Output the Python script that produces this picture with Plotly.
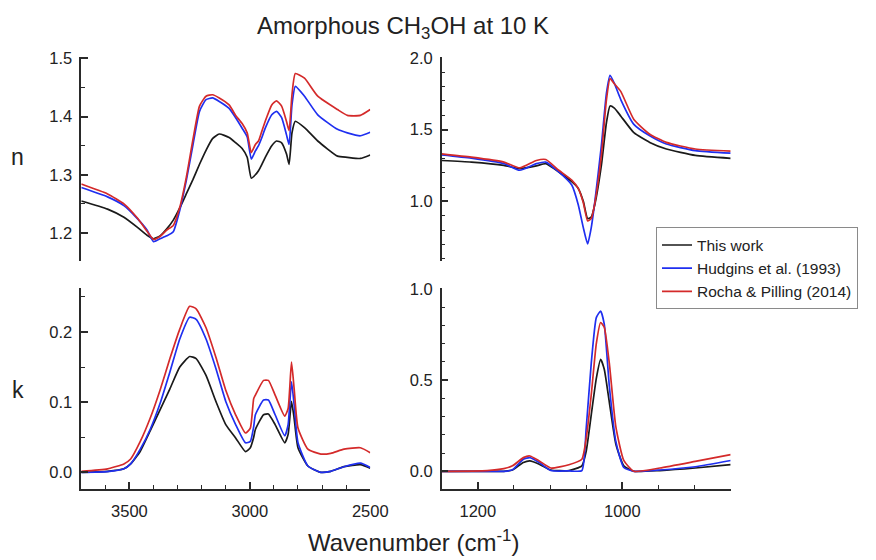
import plotly.graph_objects as go

# ---------------- data ----------------
series_names = ["This work", "Hudgins et al. (1993)", "Rocha & Pilling (2014)"]
series_colors = ["#1a1a1a", "#1f2ff0", "#d42a2a"]

# n, 3700-2500 cm-1
wn_n_hi = [3700, 3591, 3523, 3468, 3427, 3400, 3373, 3345, 3318, 3291, 3264, 3236, 3209, 3182,
           3155, 3127, 3086, 3059, 3032, 3011, 2994, 2977, 2964, 2950, 2936, 2909, 2889, 2868,
           2848, 2837, 2825, 2811, 2773, 2718, 2636, 2595, 2541, 2500]
n_hi_this = [1.255, 1.241, 1.227, 1.210, 1.196, 1.190, 1.195, 1.207, 1.222, 1.243, 1.267, 1.292,
             1.318, 1.342, 1.362, 1.370, 1.364, 1.355, 1.345, 1.330, 1.294, 1.300, 1.307, 1.318,
             1.330, 1.350, 1.358, 1.355, 1.336, 1.318, 1.372, 1.392, 1.381, 1.358, 1.332, 1.330,
             1.328, 1.334]
n_hi_hudgins = [1.278, 1.262, 1.247, 1.225, 1.205, 1.185, 1.190, 1.195, 1.202, 1.239, 1.290, 1.352,
                1.409, 1.429, 1.432, 1.426, 1.414, 1.398, 1.380, 1.365, 1.327, 1.341, 1.350, 1.364,
                1.380, 1.403, 1.409, 1.398, 1.369, 1.352, 1.420, 1.452, 1.435, 1.403, 1.378, 1.372,
                1.367, 1.373]
n_hi_rocha = [1.284, 1.267, 1.250, 1.226, 1.203, 1.189, 1.194, 1.205, 1.213, 1.244, 1.295, 1.361,
              1.418, 1.435, 1.4375, 1.432, 1.420, 1.402, 1.388, 1.372, 1.338, 1.352, 1.358, 1.375,
              1.392, 1.420, 1.427, 1.418, 1.392, 1.376, 1.4375, 1.474, 1.466, 1.435, 1.412, 1.402,
              1.402, 1.412]

# n, 1250-850 cm-1
wn_n_lo = [1250, 1209, 1164, 1142, 1119, 1106, 1088, 1070, 1061, 1054, 1048, 1043, 1038, 1029,
           1022, 1017, 1011, 1002, 984, 962, 939, 899, 850]
n_lo_this = [1.285, 1.274, 1.251, 1.228, 1.247, 1.263, 1.205, 1.137, 1.090, 1.000, 0.880, 0.890,
             0.980, 1.251, 1.548, 1.665, 1.650, 1.594, 1.479, 1.411, 1.365, 1.320, 1.300]
n_lo_hudgins = [1.324, 1.301, 1.263, 1.217, 1.263, 1.274, 1.205, 1.114, 0.977, 0.817, 0.703, 0.817,
                1.000, 1.388, 1.753, 1.879, 1.822, 1.708, 1.537, 1.457, 1.400, 1.354, 1.336]
n_lo_rocha = [1.331, 1.308, 1.274, 1.233, 1.285, 1.292, 1.217, 1.148, 1.090, 0.990, 0.863, 0.880,
              0.990, 1.320, 1.708, 1.856, 1.820, 1.765, 1.571, 1.468, 1.411, 1.365, 1.350]

# k, 3700-2500 cm-1
wn_k_hi = [3700, 3591, 3523, 3495, 3455, 3414, 3373, 3332, 3291, 3250, 3223, 3182, 3141, 3100,
           3059, 3018, 2998, 2984, 2977, 2943, 2923, 2895, 2855, 2841, 2827, 2816, 2800, 2759,
           2705, 2664, 2609, 2541, 2500]
k_hi_this = [0.000, 0.0014, 0.005, 0.012, 0.030, 0.059, 0.089, 0.119, 0.150, 0.165, 0.162, 0.138,
             0.101, 0.068, 0.049, 0.0295, 0.035, 0.050, 0.061, 0.082, 0.083, 0.068, 0.042, 0.054,
             0.101, 0.077, 0.035, 0.009, 0.000, 0.0014, 0.008, 0.011, 0.006]
k_hi_hudgins = [0.000, 0.001, 0.005, 0.012, 0.033, 0.061, 0.098, 0.143, 0.190, 0.221, 0.218, 0.190,
                0.148, 0.101, 0.068, 0.042, 0.044, 0.065, 0.082, 0.103, 0.103, 0.082, 0.052, 0.068,
                0.129, 0.096, 0.042, 0.009, 0.000, 0.0014, 0.008, 0.013, 0.007]
k_hi_rocha = [0.0014, 0.005, 0.012, 0.019, 0.044, 0.077, 0.117, 0.162, 0.204, 0.2365, 0.233, 0.206,
              0.164, 0.117, 0.082, 0.056, 0.063, 0.105, 0.110, 0.131, 0.131, 0.110, 0.080, 0.091,
              0.157, 0.119, 0.063, 0.033, 0.026, 0.027, 0.033, 0.035, 0.028]

# k, 1250-850 cm-1
wn_k_lo = [1250, 1187, 1164, 1152, 1137, 1128, 1115, 1099, 1074, 1056, 1050, 1043, 1036, 1030,
           1025, 1018, 1009, 998, 984, 948, 899, 850]
k_lo_this = [0.000, 0.000, 0.000, 0.007, 0.048, 0.057, 0.039, 0.007, 0.004, 0.030, 0.110, 0.310,
             0.510, 0.614, 0.560, 0.380, 0.150, 0.030, 0.000, 0.004, 0.018, 0.037]
k_lo_hudgins = [0.000, 0.000, 0.000, 0.008, 0.066, 0.075, 0.048, 0.004, 0.002, 0.004, 0.236, 0.593,
                0.843, 0.879, 0.807, 0.468, 0.164, 0.021, 0.000, 0.007, 0.025, 0.059]
k_lo_rocha = [0.000, 0.004, 0.015, 0.030, 0.075, 0.084, 0.057, 0.018, 0.036, 0.066, 0.180, 0.420,
              0.700, 0.816, 0.790, 0.593, 0.245, 0.060, 0.000, 0.018, 0.054, 0.091]

x_ticks_hi = [3500, 3000, 2500]
x_ticks_lo = [1200, 1000]

# ---------------- figure ----------------
W, H = 876, 560
FONT = "Liberation Sans, Arial, sans-serif"
AX = "#2a2a2a"
TXT = "#222222"

fig = go.Figure()

panels = [
    ("x", "y", wn_n_hi, [n_hi_this, n_hi_hudgins, n_hi_rocha], False),
    ("x2", "y2", wn_n_lo, [n_lo_this, n_lo_hudgins, n_lo_rocha], True),
    ("x3", "y3", wn_k_hi, [k_hi_this, k_hi_hudgins, k_hi_rocha], False),
    ("x4", "y4", wn_k_lo, [k_lo_this, k_lo_hudgins, k_lo_rocha], False),
]
for xa, ya, xs, ys_list, show in panels:
    for name, color, ys in zip(series_names, series_colors, ys_list):
        fig.add_trace(go.Scatter(
            x=xs, y=ys, xaxis=xa, yaxis=ya, mode="lines", name=name,
            line=dict(color=color, width=1.7, shape="spline", smoothing=0.5),
            showlegend=show,
        ))

def px_x(p):
    return p / W

def px_y(p):
    return 1 - p / H

dom_x_left = [px_x(83), px_x(378)]
dom_x_right = [px_x(451), px_x(746)]
dom_y_top = [px_y(256), px_y(49)]
dom_y_bot = [px_y(488), px_y(284)]

tickfont = dict(family=FONT, size=16.5, color=TXT)

def yax(domain, anchor, rng, dtick, mdtick):
    return dict(domain=domain, anchor=anchor, range=rng, dtick=dtick, tickformat=".1f",
                showline=True, linecolor=AX, linewidth=1.5, ticks="inside", ticklen=7,
                tickwidth=1.5, tickcolor=AX, showgrid=False, zeroline=False,
                tickfont=tickfont, ticklabelstandoff=4,
                minor=dict(ticks="inside", dtick=mdtick, ticklen=4, tickwidth=1.2,
                           tickcolor=AX, showgrid=False))

def xax_bottom(domain, anchor, rng, tickvals, mdtick):
    return dict(domain=domain, anchor=anchor, range=rng, tickvals=tickvals,
                showline=True, linecolor=AX, linewidth=1.5, ticks="inside", ticklen=7,
                tickwidth=1.5, tickcolor=AX, showgrid=False, zeroline=False,
                tickfont=tickfont, ticklabelstandoff=6,
                minor=dict(ticks="inside", dtick=mdtick, ticklen=4, tickwidth=1.2,
                           tickcolor=AX, showgrid=False))

def xax_hidden(domain, anchor, rng):
    return dict(domain=domain, anchor=anchor, range=rng, visible=False, showgrid=False,
                zeroline=False)

fig.update_layout(
    width=W, height=H,
    margin=dict(l=0, r=0, t=0, b=0),
    paper_bgcolor="white", plot_bgcolor="white",
    font=dict(family=FONT, color=TXT),
    xaxis=xax_hidden(dom_x_left, "y", [3700, 2500]),
    xaxis2=xax_hidden(dom_x_right, "y2", [1250, 850]),
    xaxis3=xax_bottom(dom_x_left, "y3", [3700, 2500], x_ticks_hi, 100),
    xaxis4=xax_bottom(dom_x_right, "y4", [1250, 850], x_ticks_lo, 50),
    yaxis=yax(dom_y_top, "x", [1.152, 1.502], 0.1, 0.05),
    yaxis2=yax(dom_y_top, "x2", [0.585, 2.005], 0.5, 0.1),
    yaxis3=yax(dom_y_bot, "x3", [-0.024, 0.262], 0.1, 0.05),
    yaxis4=yax(dom_y_bot, "x4", [-0.098, 1.003], 0.5, 0.1),
    legend=dict(x=1.0, y=px_y(222), xanchor="right", yanchor="top",
                bgcolor="white", bordercolor="#8a8a8a", borderwidth=1,
                font=dict(family=FONT, size=15.5, color=TXT),
                tracegroupgap=0, itemwidth=30),
    annotations=[
        dict(text="Amorphous CH<sub>3</sub>OH at 10 K", x=px_x(411), y=px_y(19),
             xref="paper", yref="paper", showarrow=False, xanchor="center", yanchor="middle",
             font=dict(family=FONT, size=24, color=TXT)),
        dict(text="Wavenumber (cm<sup>-1</sup>)", x=px_x(422), y=px_y(541),
             xref="paper", yref="paper", showarrow=False, xanchor="center", yanchor="middle",
             font=dict(family=FONT, size=24, color=TXT)),
        dict(text="n", x=px_x(18), y=px_y(150), xref="paper", yref="paper",
             showarrow=False, xanchor="center", yanchor="middle",
             font=dict(family=FONT, size=23, color=TXT)),
        dict(text="k", x=px_x(18), y=px_y(387), xref="paper", yref="paper",
             showarrow=False, xanchor="center", yanchor="middle",
             font=dict(family=FONT, size=23, color=TXT)),
    ],
)

fig.write_html("out.html")
